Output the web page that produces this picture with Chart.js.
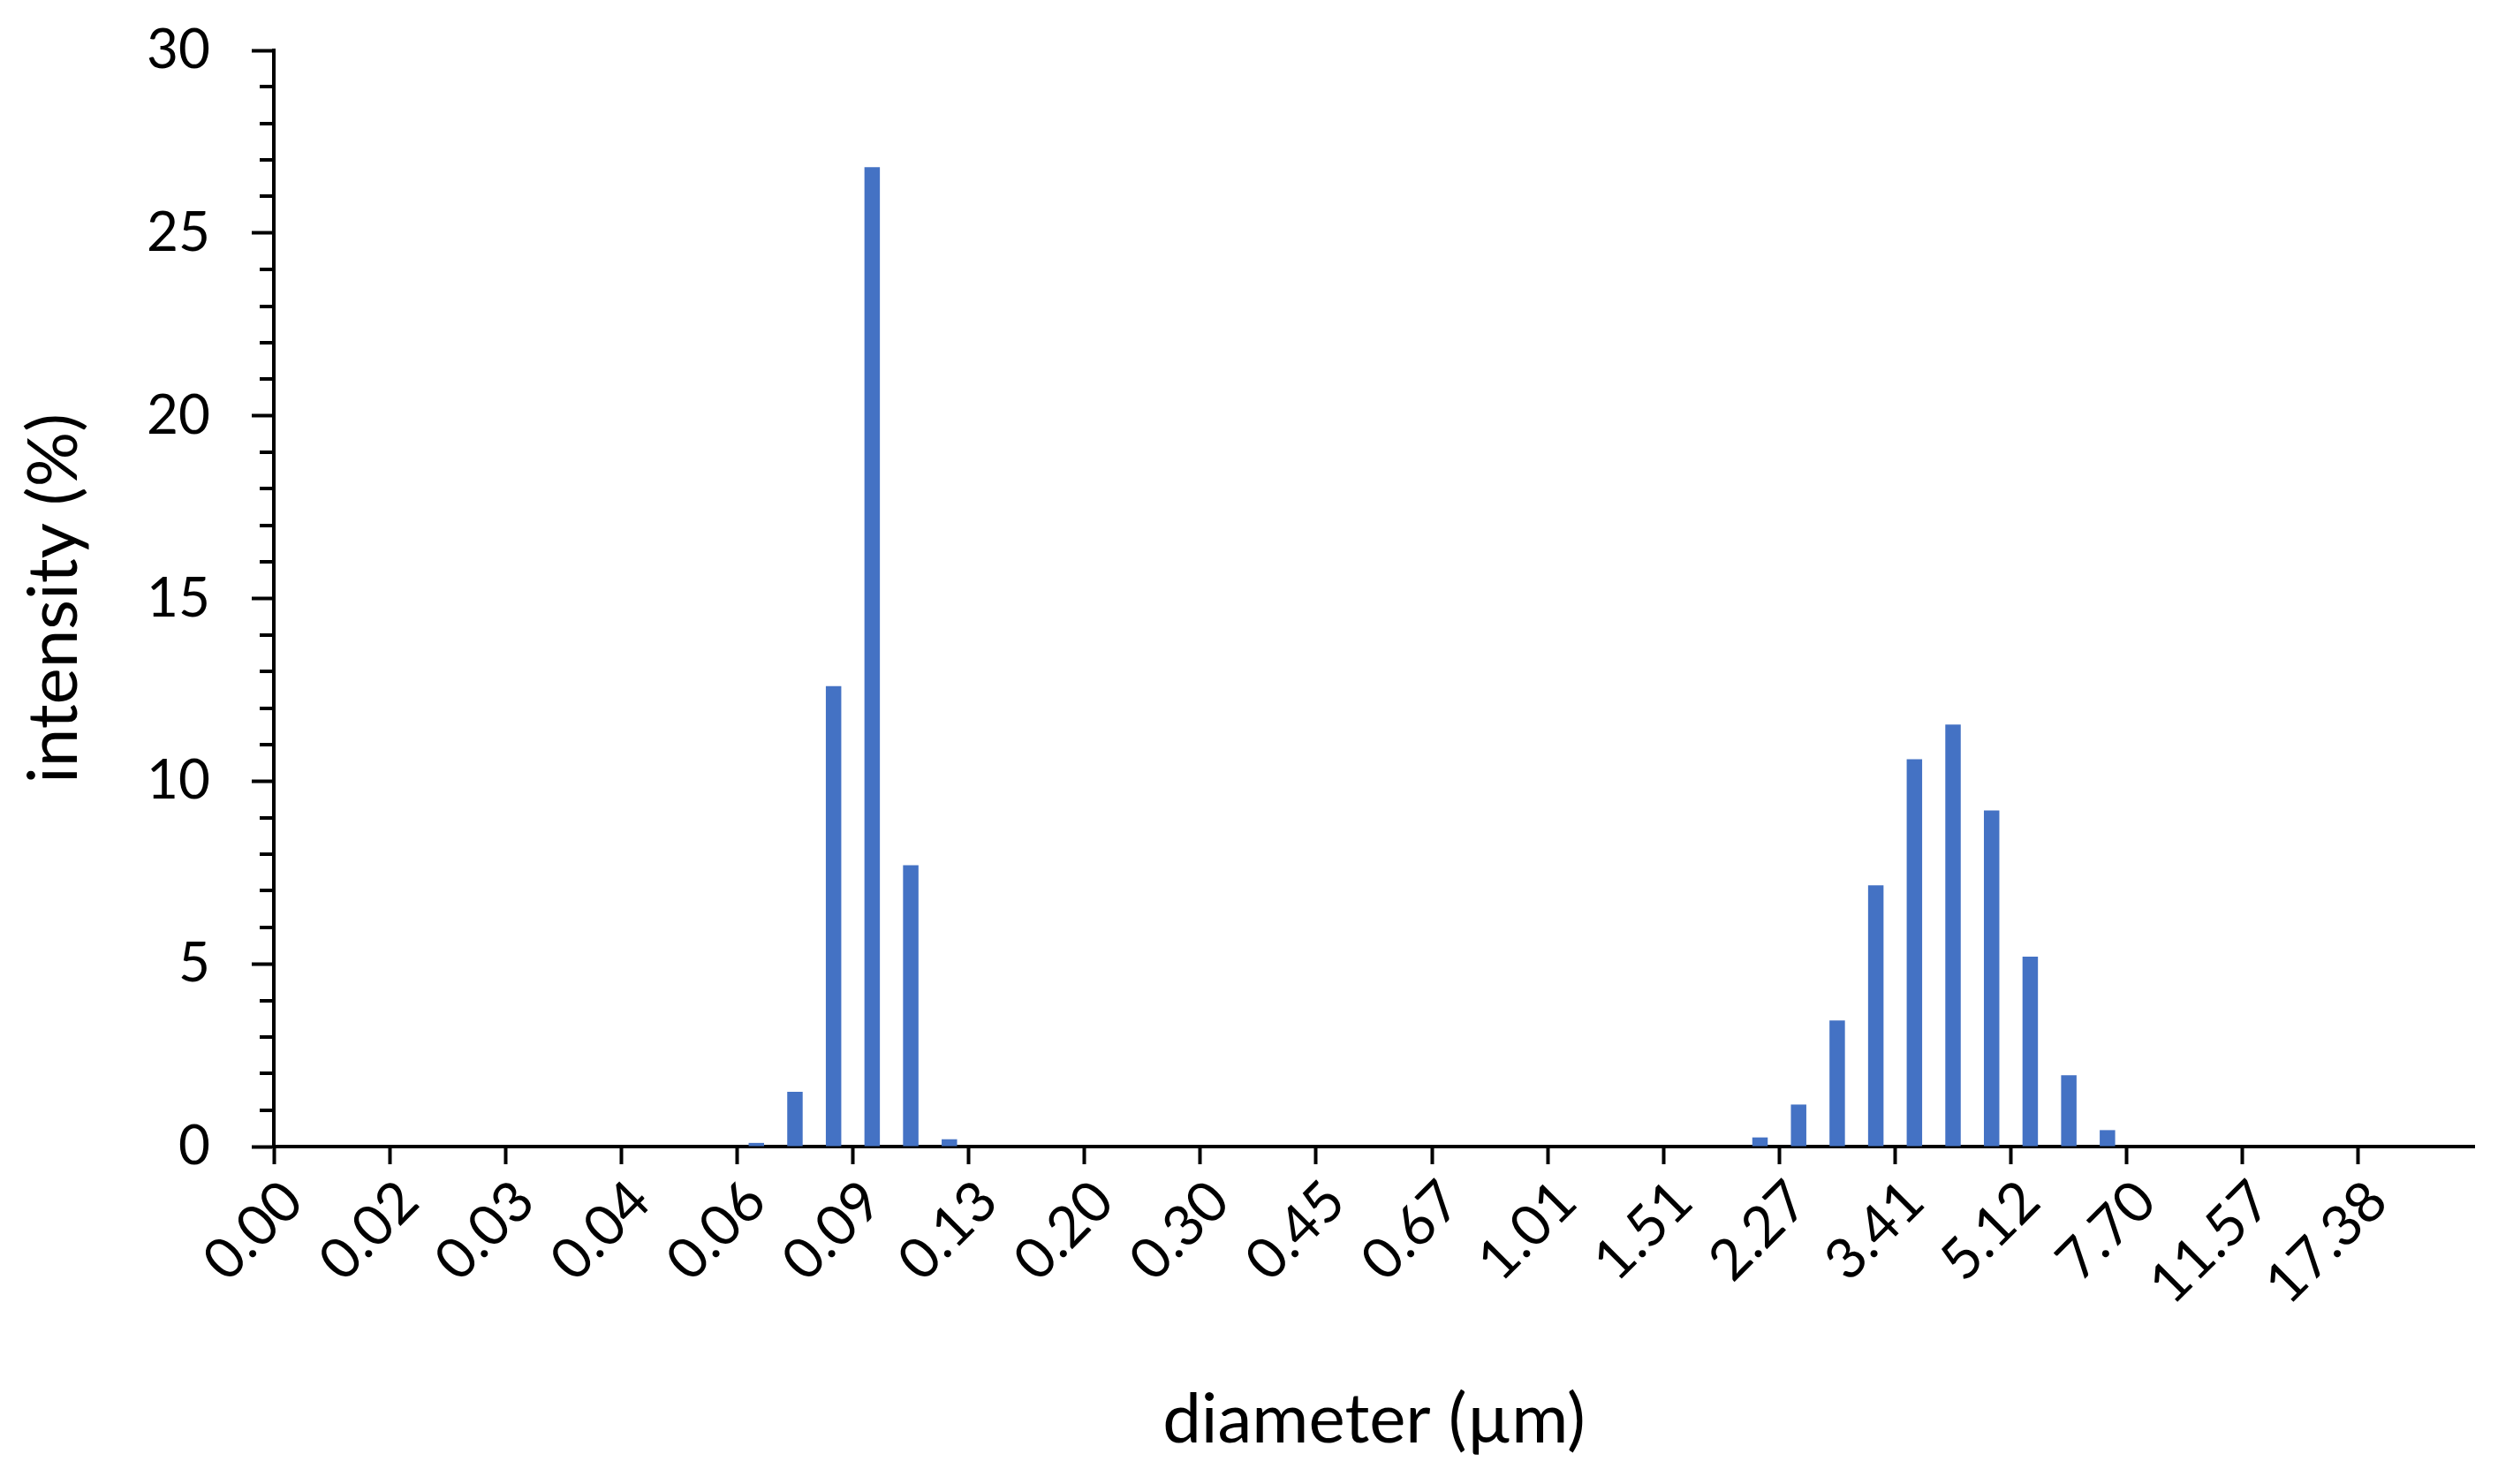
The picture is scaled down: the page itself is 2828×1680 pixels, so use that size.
<!DOCTYPE html>
<html>
<head>
<meta charset="utf-8">
<script src="https://cdn.jsdelivr.net/npm/chart.js@4.4.1/dist/chart.umd.min.js"></script>
<style>
  html, body { margin: 0; padding: 0; background: #ffffff; }
  #wrap { width: 2828px; height: 1680px; }
</style>
</head>
<body>
<div id="wrap"><canvas id="c" width="2828" height="1680"></canvas></div>
<script>
// Tick labels shown on the x axis (every third size class), diameter in µm
const tickLabels = ['0.00', '0.02', '0.03', '0.04', '0.06', '0.09', '0.13', '0.20', '0.30',
  '0.45', '0.67', '1.01', '1.51', '2.27', '3.41', '5.12', '7.70', '11.57', '17.38'];
const classesPerLabel = 3;

// Intensity (%) for each of the 57 size classes
const intensity = [
  0, 0, 0, 0, 0, 0, 0, 0, 0, 0, 0, 0,
  0.1, 1.5, 12.6, 26.8, 7.7, 0.2,
  0, 0, 0, 0, 0, 0, 0, 0, 0, 0, 0, 0, 0, 0, 0, 0, 0, 0, 0, 0,
  0.25, 1.15, 3.45, 7.15, 10.6, 11.55, 9.2, 5.2, 1.95, 0.45,
  0, 0, 0, 0, 0, 0, 0, 0, 0
];

const yTickValues = [0, 5, 10, 15, 20, 25, 30];

const categories = intensity.map((v, i) =>
  i % classesPerLabel === 0 ? tickLabels[i / classesPerLabel] : '');

const FONT = 'Lato';
const BLACK = '#000000';

const minorTicks = {
  id: 'minorTicks',
  afterDraw(chart) {
    const y = chart.scales.y;
    const ctx = chart.ctx;
    ctx.save();
    ctx.strokeStyle = BLACK;
    ctx.lineWidth = 4;
    for (let v = y.min; v <= y.max; v += 1) {
      if (yTickValues.includes(v)) continue;
      const py = Math.round(y.getPixelForValue(v));
      ctx.beginPath();
      ctx.moveTo(y.right - 16, py);
      ctx.lineTo(y.right, py);
      ctx.stroke();
    }
    ctx.restore();
  }
};

new Chart(document.getElementById('c'), {
  type: 'bar',
  data: {
    labels: categories,
    datasets: [{
      data: intensity,
      backgroundColor: '#4472C4',
      borderWidth: 0,
      barPercentage: 0.4,
      categoryPercentage: 1.0
    }]
  },
  options: {
    responsive: false,
    animation: false,
    devicePixelRatio: 1,
    layout: { padding: { left: 0, right: 27, top: 57, bottom: 0 } },
    plugins: { legend: { display: false }, tooltip: { enabled: false } },
    scales: {
      x: {
        offset: true,
        afterFit(scale) {
          scale.height = 382;
          scale.paddingLeft = 0;
          scale.paddingRight = 0;
        },
        grid: {
          offset: true,
          drawOnChartArea: false,
          drawTicks: true,
          tickLength: 20,
          tickWidth: 4,
          tickColor: (ctx) => (ctx.index % classesPerLabel === 0 ? BLACK : 'rgba(0,0,0,0)')
        },
        border: { display: true, color: BLACK, width: 4 },
        ticks: {
          autoSkip: false,
          minRotation: 45,
          maxRotation: 45,
          padding: 4,
          color: BLACK,
          font: { family: FONT, size: 64 }
        },
        title: {
          display: true,
          text: 'diameter (µm)',
          color: BLACK,
          font: { family: FONT, size: 78, lineHeight: 1.2 },
          padding: { top: 0, bottom: 25 }
        }
      },
      y: {
        min: 0,
        max: 30,
        afterFit(scale) {
          scale.width = 310;
          scale.paddingTop = 0;
          scale.paddingBottom = 0;
        },
        afterBuildTicks(scale) { scale.ticks = yTickValues.map(v => ({ value: v })); },
        grid: {
          drawOnChartArea: false,
          drawTicks: true,
          tickLength: 25,
          tickWidth: 4,
          tickColor: BLACK
        },
        border: { display: true, color: BLACK, width: 4 },
        ticks: {
          padding: 47,
          color: BLACK,
          font: { family: FONT, size: 62 }
        },
        title: {
          display: true,
          text: 'intensity (%)',
          color: BLACK,
          font: { family: FONT, size: 78, lineHeight: 1.2 },
          padding: { top: 15, bottom: 0 }
        }
      }
    }
  },
  plugins: [minorTicks]
});
</script>
</body>
</html>
